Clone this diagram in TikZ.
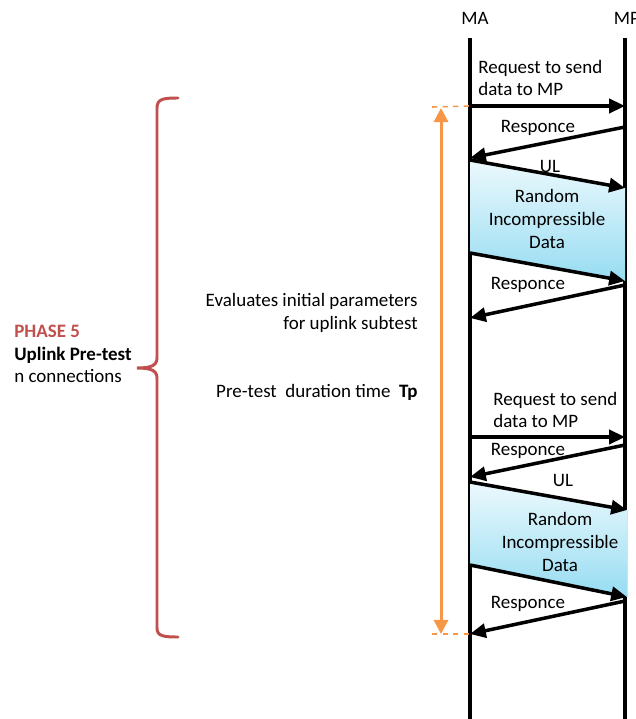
\documentclass[tikz,border=0pt]{standalone}
\usepackage{fontspec}
\setmainfont{Carlito}
\usepackage{xcolor}
\usetikzlibrary{arrows.meta,positioning,calc}
\definecolor{phasered}{RGB}{192,80,77}
\definecolor{durorange}{RGB}{247,150,70}
\definecolor{datatop}{RGB}{236,249,253}
\definecolor{databot}{RGB}{150,220,242}

\begin{document}
\begin{tikzpicture}[x=0.02cm,y=-0.02cm,font=\fontsize{10.8}{13}\selectfont,
  life/.style={line width=2pt},
  msg/.style={line width=2pt,-{Triangle[length=9pt,width=8pt]}},
  data/.style={top color=datatop,bottom color=databot,draw=none},
  lbl/.style={align=center,inner sep=0pt},
  dur/.style={durorange,line width=1.7pt,{Triangle[length=8pt,width=8pt]}-{Triangle[length=8pt,width=8pt]}},
  guide/.style={durorange,line width=0.9pt,dashed}]
\useasboundingbox (0,0) rectangle (635,719);
% lifelines
\node (ma) at (475,18) {MA};
\node (mp) at (627,18) {MP};
\coordinate (ma0) at (470,38); \coordinate (ma9) at (470,719);
\coordinate (mp0) at (625,38); \coordinate (mp9) at (625,719);
\draw[life] (ma0) -- (ma9);
\draw[life] (mp0) -- (mp9);
% first exchange
\coordinate (a1) at (470,106); \coordinate (b1) at (625,106);
\coordinate (b2) at (625,127); \coordinate (a2) at (470,158);
\coordinate (a3) at (470,160); \coordinate (b3) at (625,188);
\coordinate (a4) at (470,253); \coordinate (b4) at (625,281);
\coordinate (b5) at (625,285); \coordinate (a5) at (470,318);
\fill[data] (a3) -- (b3) -- (b4) -- (a4) -- cycle;
\node[lbl] (rnd1) at (547,219) {Random\\Incompressible\\Data};
\node[lbl,align=left,anchor=west] (req1) at (478,78) {Request to send\\data to MP};
\node[lbl] (rsp1) at (538,128) {Responce};
\node[lbl] (ul1) at (550,166) {UL};
\node[lbl] (rsp2) at (528,285) {Responce};
\draw[msg] (a1) -- (b1);
\draw[msg] (b2) -- (a2);
\draw[msg] (a3) -- (b3);
\draw[msg] (a4) -- (b4);
\draw[msg] (b5) -- (a5);
% second exchange
\coordinate (c1) at (470,437); \coordinate (d1) at (625,437);
\coordinate (d2) at (625,445); \coordinate (c2) at (470,477);
\coordinate (c3) at (470,482); \coordinate (d3) at (627,510);
\coordinate (c4) at (470,565); \coordinate (d4) at (627,597);
\coordinate (d5) at (625,601); \coordinate (c5) at (470,634);
\fill[data] (c3) -- (d3) -- (d4) -- (c4) -- cycle;
\node[lbl] (rnd2) at (560,542) {Random\\Incompressible\\Data};
\node[lbl,align=left,anchor=west] (req2) at (493,410) {Request to send\\data to MP};
\node[lbl] (rsp3) at (528,451) {Responce};
\node[lbl] (ul2) at (563,480) {UL};
\node[lbl] (rsp4) at (528,604) {Responce};
\draw[msg] (c1) -- (d1);
\draw[msg] (d2) -- (c2);
\draw[msg] (c3) -- (d3);
\draw[msg] (c4) -- (d4);
\draw[msg] (d5) -- (c5);
% duration
\coordinate (t0) at (432,107); \coordinate (t1) at (432,634);
\draw[guide] (t0) -- (a1);
\draw[guide] (t1) -- (c5);
\draw[dur] (441,108) -- (441,634);
\node[lbl,align=right,anchor=east] (eval) at (418,313) {Evaluates initial parameters\\for uplink subtest};
\node[lbl,anchor=east] (tp) at (418,392) {Pre-test\ \ duration time\ \ \textbf{Tp}};
% phase brace
\draw[phasered,line width=1.7pt,line cap=round]
  (178,98) .. controls (163,98) and (157,99) .. (157,108) -- (157,358)
  .. controls (157,366) and (150,368) .. (137,368)
  .. controls (150,368) and (157,370) .. (157,378) -- (157,628)
  .. controls (157,636) and (163,637) .. (178,637);
\node[lbl,align=left,anchor=west] (phase) at (14,354)
  {\textcolor{phasered}{\textbf{PHASE 5}}\\\textbf{Uplink Pre-test}\\n connections};
\end{tikzpicture}
\end{document}
